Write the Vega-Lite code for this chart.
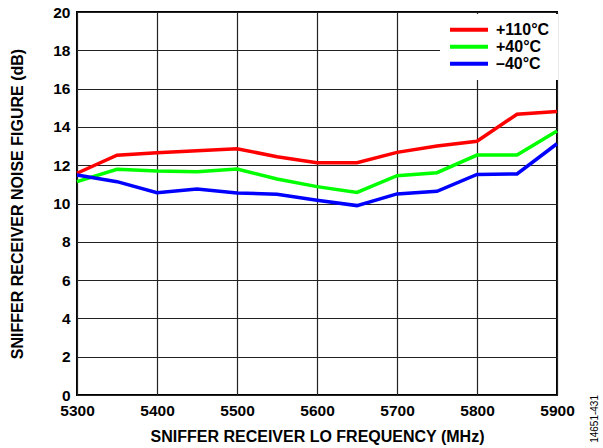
{
  "$schema": "https://vega.github.io/schema/vega-lite/v6.json",
  "autosize": "none",
  "width": 480,
  "height": 383,
  "padding": {"left": 77, "top": 12, "right": 46, "bottom": 53},
  "background": "white",
  "title": {"text": "14651-431", "orient": "right", "anchor": "end", "frame": "group", "angle": 270, "align": "right", "fontSize": 10, "font": "Liberation Sans", "fontWeight": "normal", "color": "#000000", "offset": 11, "baseline": "middle"},
  "config": {
    "view": {"stroke": "#000000", "strokeWidth": 2},
    "font": "Liberation Sans"
  },
  "data": {"values": [
    {"f": 5300, "nf": 11.58, "t": "+110°C"},
    {"f": 5350, "nf": 12.52, "t": "+110°C"},
    {"f": 5400, "nf": 12.65, "t": "+110°C"},
    {"f": 5450, "nf": 12.76, "t": "+110°C"},
    {"f": 5500, "nf": 12.86, "t": "+110°C"},
    {"f": 5550, "nf": 12.44, "t": "+110°C"},
    {"f": 5600, "nf": 12.13, "t": "+110°C"},
    {"f": 5650, "nf": 12.13, "t": "+110°C"},
    {"f": 5700, "nf": 12.67, "t": "+110°C"},
    {"f": 5750, "nf": 13.0, "t": "+110°C"},
    {"f": 5800, "nf": 13.25, "t": "+110°C"},
    {"f": 5850, "nf": 14.66, "t": "+110°C"},
    {"f": 5900, "nf": 14.81, "t": "+110°C"},
    {"f": 5300, "nf": 11.14, "t": "+40°C"},
    {"f": 5350, "nf": 11.79, "t": "+40°C"},
    {"f": 5400, "nf": 11.7, "t": "+40°C"},
    {"f": 5450, "nf": 11.66, "t": "+40°C"},
    {"f": 5500, "nf": 11.8, "t": "+40°C"},
    {"f": 5550, "nf": 11.28, "t": "+40°C"},
    {"f": 5600, "nf": 10.88, "t": "+40°C"},
    {"f": 5650, "nf": 10.58, "t": "+40°C"},
    {"f": 5700, "nf": 11.45, "t": "+40°C"},
    {"f": 5750, "nf": 11.61, "t": "+40°C"},
    {"f": 5800, "nf": 12.53, "t": "+40°C"},
    {"f": 5850, "nf": 12.53, "t": "+40°C"},
    {"f": 5900, "nf": 13.79, "t": "+40°C"},
    {"f": 5300, "nf": 11.49, "t": "–40°C"},
    {"f": 5350, "nf": 11.14, "t": "–40°C"},
    {"f": 5400, "nf": 10.56, "t": "–40°C"},
    {"f": 5450, "nf": 10.76, "t": "–40°C"},
    {"f": 5500, "nf": 10.55, "t": "–40°C"},
    {"f": 5550, "nf": 10.48, "t": "–40°C"},
    {"f": 5600, "nf": 10.17, "t": "–40°C"},
    {"f": 5650, "nf": 9.89, "t": "–40°C"},
    {"f": 5700, "nf": 10.5, "t": "–40°C"},
    {"f": 5750, "nf": 10.64, "t": "–40°C"},
    {"f": 5800, "nf": 11.52, "t": "–40°C"},
    {"f": 5850, "nf": 11.54, "t": "–40°C"},
    {"f": 5900, "nf": 13.12, "t": "–40°C"}
  ]},
  "mark": {"type": "line", "strokeWidth": 3.5, "strokeJoin": "miter"},
  "encoding": {
    "x": {
      "field": "f", "type": "quantitative",
      "scale": {"domain": [5300, 5900], "nice": false, "zero": false},
      "axis": {
        "title": "SNIFFER RECEIVER LO FREQUENCY (MHz)",
        "values": [5300, 5400, 5500, 5600, 5700, 5800, 5900],
        "format": "d",
        "grid": true, "gridColor": "#222222", "gridWidth": 1.2, "gridOpacity": 1,
        "domain": false, "ticks": false,
        "labelFontSize": 15.5, "labelFontWeight": "bold", "labelColor": "#000000", "labelPadding": 8,
        "labelFlush": false,
        "titleFontSize": 16, "titleFontWeight": "bold", "titleColor": "#000000", "titlePadding": 10
      }
    },
    "y": {
      "field": "nf", "type": "quantitative",
      "scale": {"domain": [0, 20], "nice": false},
      "axis": {
        "title": "SNIFFER RECEIVER NOISE FIGURE (dB)",
        "values": [0, 2, 4, 6, 8, 10, 12, 14, 16, 18, 20],
        "grid": true, "gridColor": "#222222", "gridWidth": 1.2, "gridOpacity": 1,
        "domain": false, "ticks": false,
        "labelFontSize": 15.5, "labelFontWeight": "bold", "labelColor": "#000000", "labelPadding": 7,
        "labelFlush": false,
        "titleFontSize": 16, "titleFontWeight": "bold", "titleColor": "#000000", "titlePadding": 27
      }
    },
    "color": {
      "field": "t", "type": "nominal",
      "scale": {"domain": ["+110°C", "+40°C", "–40°C"], "range": ["#ff0000", "#00ff00", "#0000ff"]},
      "legend": {
        "title": null,
        "orient": "none",
        "legendX": 363,
        "legendY": 2,
        "fillColor": "white",
        "padding": 8,
        "symbolType": "stroke",
        "symbolSize": 1444,
        "symbolStrokeWidth": 4,
        "clipHeight": 15.5,
        "rowPadding": 0,
        "labelFontSize": 16,
        "labelFontWeight": "bold",
        "labelColor": "#000000",
        "labelOffset": 6
      }
    }
  }
}
